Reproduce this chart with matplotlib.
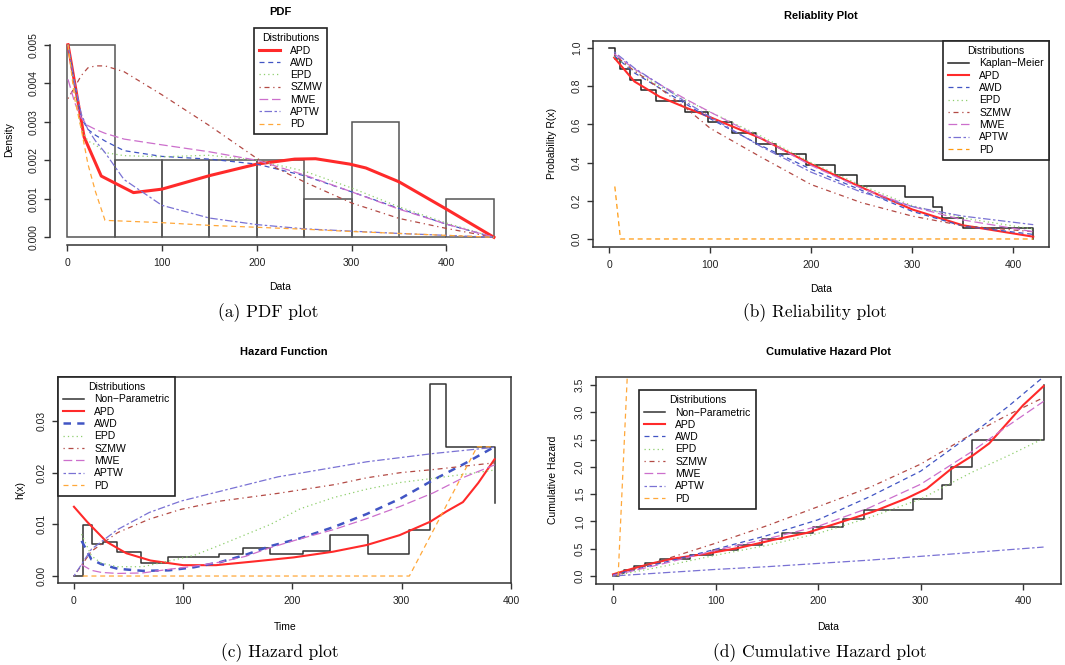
import numpy as np
import matplotlib.pyplot as plt

plt.rcParams['font.family'] = ['Liberation Sans', 'DejaVu Sans']

W, H = 1065, 665

# ---------------- (a) PDF ----------------
hist_left = [0, 50, 100, 150, 200, 250, 300, 350, 400]
hist_density = [0.005, 0.002, 0.002, 0.002, 0.002, 0.001, 0.003, 0.0, 0.001]

pdf_apd_x = [1, 18, 36, 70, 100, 150, 200, 240, 262, 298, 315, 350, 400, 450]
pdf_apd_y = [0.0050, 0.0026, 0.00159, 0.00116, 0.00125, 0.0016, 0.0019, 0.00203,
             0.00204, 0.0019, 0.0018, 0.00144, 0.00073, 0.0]

pdf_x = [1, 8, 15, 22, 30, 40, 60, 100, 150, 200, 250, 300, 350, 400, 450]
pdf_awd = [0.005, 0.0040, 0.0031, 0.0028, 0.00265, 0.0025, 0.00225, 0.0021, 0.00203,
           0.0019, 0.0016, 0.00118, 0.00075, 0.00034, 0.0]
pdf_epd = [0.005, 0.0038, 0.0028, 0.0025, 0.0024, 0.0022, 0.00212, 0.00209, 0.00213,
           0.0020, 0.00172, 0.00128, 0.00079, 0.00037, 0.0]
pdf_szmw = [0.0036, 0.0039, 0.0042, 0.0044, 0.00445, 0.00445, 0.0043, 0.0037, 0.0029,
            0.00205, 0.00144, 0.00089, 0.00049, 0.00023, 0.0]
pdf_mwe = [0.0041, 0.0035, 0.0031, 0.0029, 0.0028, 0.0027, 0.00255, 0.0024, 0.00222,
           0.0020, 0.00162, 0.00118, 0.00073, 0.00034, 0.0]
pdf_aptw = [0.005, 0.0040, 0.0032, 0.0028, 0.0025, 0.0022, 0.0015, 0.00083, 0.0005,
            0.00033, 0.00022, 0.00016, 0.0001, 0.00005, 0.0]
pdf_pd = [0.005, 0.0036, 0.0028, 0.0019, 0.00118, 0.00044, 0.00042, 0.00038, 0.00031,
          0.00026, 0.00021, 0.00015, 0.0001, 0.00005, 0.0]

# ---------------- (b) Reliability ----------------
km_time = [0, 5.6, 11.2, 20.5, 31.4, 46, 75, 98, 122, 145, 165, 195, 224, 245, 293,
           321, 330, 350, 420]
km_surv = [1.0, 0.945, 0.89, 0.835, 0.778, 0.722, 0.667, 0.611, 0.556, 0.5, 0.444,
           0.389, 0.333, 0.278, 0.222, 0.167, 0.111, 0.056, 0.0]

rel_x = [5, 25, 50, 75, 100, 150, 200, 250, 300, 350, 420]
rel_apd = [0.95, 0.825, 0.745, 0.69, 0.638, 0.528, 0.392, 0.27, 0.155, 0.072, 0.012]
rel_awd = [0.96, 0.87, 0.79, 0.71, 0.63, 0.49, 0.365, 0.255, 0.145, 0.068, 0.024]
rel_epd = [0.955, 0.88, 0.80, 0.73, 0.665, 0.54, 0.40, 0.28, 0.175, 0.11, 0.052]
rel_szmw = [0.965, 0.88, 0.79, 0.69, 0.58, 0.43, 0.285, 0.19, 0.12, 0.07, 0.038]
rel_mwe = [0.97, 0.89, 0.81, 0.735, 0.665, 0.53, 0.385, 0.265, 0.17, 0.10, 0.038]
rel_aptw = [0.98, 0.895, 0.81, 0.72, 0.64, 0.485, 0.35, 0.245, 0.17, 0.12, 0.075]
rel_pd_x = [5.6, 11.2, 420]
rel_pd = [0.275, 0.0, 0.0]

# ---------------- (c) Hazard ----------------
np_time = [0, 8.5, 16.8, 27, 39, 61, 86.5, 110, 133, 155, 179.5, 209.5, 234.5, 269,
           307, 325.5, 340.5, 385, 385]
np_haz = [0, 0.0098, 0.0062, 0.0066, 0.0047, 0.0026, 0.0036, 0.0037, 0.0043, 0.0055,
          0.0042, 0.0049, 0.0079, 0.0042, 0.0089, 0.0371, 0.0250, 0.0250, 0.0142]

hz_apd_x = [0, 12, 30, 48, 70, 100, 130, 164, 201, 237, 268, 298, 326, 341, 356, 370, 385]
hz_apd = [0.0134, 0.0105, 0.0066, 0.0044, 0.0030, 0.0021, 0.0021, 0.0028, 0.0036,
          0.0047, 0.0060, 0.0079, 0.0105, 0.0125, 0.0143, 0.0180, 0.0226]
hz_x = [7, 16, 25, 40, 63, 87, 110, 134, 157, 180, 207, 238, 268, 299, 329, 358, 385]
hz_awd = [0.0068, 0.0032, 0.0023, 0.0014, 0.0010, 0.0011, 0.0017, 0.0027, 0.0041,
          0.0058, 0.0073, 0.0095, 0.0120, 0.0150, 0.0186, 0.0218, 0.0250]
hz_epd = [0.0081, 0.0039, 0.0025, 0.0018, 0.0018, 0.0029, 0.0040, 0.0060, 0.0080,
          0.0100, 0.0130, 0.0152, 0.0168, 0.0181, 0.0189, 0.0197, 0.0205]
hz_mwe = [0.0022, 0.0011, 0.0007, 0.0005, 0.0006, 0.0013, 0.0019, 0.0027, 0.0038,
          0.0055, 0.0072, 0.0090, 0.0111, 0.0135, 0.0161, 0.0192, 0.0215]
hz_szmw_x = [0, 16, 40, 69, 98, 134, 187, 239, 268, 299, 329, 385]
hz_szmw = [0.0, 0.0048, 0.0084, 0.0110, 0.0129, 0.0145, 0.0160, 0.0177, 0.0190,
           0.0200, 0.0206, 0.0219]
hz_aptw_x = [0, 16, 40, 69, 98, 134, 187, 207, 268, 329, 385]
hz_aptw = [0.0, 0.0052, 0.0090, 0.0123, 0.0145, 0.0164, 0.0192, 0.0199, 0.0221,
           0.0237, 0.0249]
hz_pd_x = [8, 307, 369, 385]
hz_pd = [0.0, 0.0, 0.025, 0.025]

# ---------------- (d) Cumulative hazard ----------------
np_cum = [0, 0.06, 0.11, 0.18, 0.24, 0.32, 0.39, 0.48, 0.57, 0.67, 0.78, 0.90, 1.05,
          1.21, 1.41, 1.66, 2.0, 2.5, 3.5]

ch_apd_x = [0, 20, 40, 59, 92, 124, 156, 189, 221, 254, 286, 306, 329, 351, 367, 384, 400, 420]
ch_apd = [0.03, 0.14, 0.24, 0.32, 0.41, 0.52, 0.66, 0.79, 0.98, 1.18, 1.42, 1.60,
          1.95, 2.21, 2.43, 2.79, 3.13, 3.48]
ch_x = [0, 50, 100, 150, 200, 250, 300, 350, 385, 420]
ch_awd = [0.02, 0.25, 0.49, 0.74, 1.03, 1.45, 1.92, 2.6, 3.1, 3.65]
ch_epd = [0.0, 0.18, 0.38, 0.56, 0.78, 1.07, 1.41, 1.9, 2.2, 2.52]
ch_szmw = [0.0, 0.3, 0.6, 0.92, 1.27, 1.62, 2.05, 2.6, 2.95, 3.27]
ch_mwe = [0.01, 0.23, 0.47, 0.68, 0.91, 1.25, 1.68, 2.28, 2.75, 3.2]
ch_aptw = [0.0, 0.06, 0.12, 0.17, 0.23, 0.29, 0.36, 0.43, 0.48, 0.53]
ch_pd_x = [5, 14]
ch_pd = [0.0, 3.7]

# styles
c_apd, c_awd, c_epd = '#ff2a2a', '#4155c4', '#8fcf6e'
c_szmw, c_mwe, c_aptw, c_pd = '#b34a45', '#cc6fcc', '#7a72d4', '#ffa83a'
ls_dash = (0, (4, 3))
ls_dot = (0, (1, 2.5))
ls_dotdash = (0, (1, 3, 4, 3))
ls_long = (0, (7, 3))
ls_two = (0, (2, 2, 6, 2))
frame = '#333333'


def px_axes(l, t, r, b):
    return fig.add_axes([l / W, 1 - b / H, (r - l) / W, (b - t) / H])


def style(ax, box=True):
    for s in ax.spines.values():
        s.set_color(frame)
        s.set_linewidth(1.1)
        s.set_visible(box)
    ax.tick_params(length=4, width=1, color=frame, labelsize=7.5, labelcolor='#222')
    ax.tick_params(axis='x', pad=5)
    ax.tick_params(axis='y', pad=4, labelrotation=90)
    for lab in ax.get_yticklabels():
        lab.set_va('center')


def legend(ax, handles, labels, x, y, loc='upper left'):
    leg = ax.legend(handles, labels, title='Distributions', loc=loc,
                    bbox_to_anchor=(x / W, 1 - y / H), bbox_transform=fig.transFigure,
                    fontsize=7.5, title_fontsize=7.5, fancybox=False, framealpha=1,
                    edgecolor='#222', handlelength=2.0, handletextpad=1.0,
                    labelspacing=0.22, borderpad=0.5, borderaxespad=0)
    leg.get_frame().set_linewidth(1.2)


def text(x, y, s, **kw):
    fig.text(x / W, 1 - y / H, s, ha='center', va='center', **kw)


fig = plt.figure(figsize=(W / 100, H / 100), dpi=100)

# ---- (a)
ax = px_axes(50, 37, 511, 245)
ax.bar(hist_left, hist_density, width=50, align='edge', fill=False, edgecolor='#555555', linewidth=1.1)
h = []
h += ax.plot(pdf_apd_x, pdf_apd_y, color=c_apd, lw=2.2)
h += ax.plot(pdf_x, pdf_awd, color=c_awd, lw=0.9, ls=ls_dash)
h += ax.plot(pdf_x, pdf_epd, color=c_epd, lw=0.9, ls=ls_dot)
h += ax.plot(pdf_x, pdf_szmw, color=c_szmw, lw=0.9, ls=ls_dotdash)
h += ax.plot(pdf_x, pdf_mwe, color=c_mwe, lw=0.9, ls=ls_long)
h += ax.plot(pdf_x, pdf_aptw, color=c_aptw, lw=0.9, ls=ls_two)
h += ax.plot(pdf_x, pdf_pd, color=c_pd, lw=0.9, ls=ls_dash)
ax.set_xlim(-18, 468)
ax.set_ylim(-0.0002, 0.0052)
ax.set_xticks([0, 100, 200, 300, 400])
ax.set_yticks([0, 0.001, 0.002, 0.003, 0.004, 0.005])
ax.set_yticklabels(['0.000', '0.001', '0.002', '0.003', '0.004', '0.005'])
style(ax, box=False)
ax.spines['left'].set_visible(True)
ax.spines['bottom'].set_visible(True)
ax.spines['left'].set_bounds(0, 0.005)
ax.spines['bottom'].set_bounds(0, 400)
legend(ax, h, ['APD', 'AWD', 'EPD', 'SZMW', 'MWE', 'APTW', 'PD'], 254, 28)
text(280, 12, 'PDF', fontsize=8, fontweight='bold')
text(280, 287, 'Data', fontsize=7.5)
text(9, 140, 'Density', fontsize=7.5, rotation=90)

# ---- (b)
ax = px_axes(593, 41, 1049, 247)
h = []
h += ax.plot(km_time, km_surv, color='#222222', lw=1.1, drawstyle='steps-post')
h += ax.plot(rel_x, rel_apd, color=c_apd, lw=1.5)
h += ax.plot(rel_x, rel_awd, color=c_awd, lw=0.9, ls=ls_dash)
h += ax.plot(rel_x, rel_epd, color=c_epd, lw=0.9, ls=ls_dot)
h += ax.plot(rel_x, rel_szmw, color=c_szmw, lw=0.9, ls=ls_dotdash)
h += ax.plot(rel_x, rel_mwe, color=c_mwe, lw=0.9, ls=ls_long)
h += ax.plot(rel_x, rel_aptw, color=c_aptw, lw=0.9, ls=ls_two)
h += ax.plot(rel_pd_x, rel_pd, color='#ff9a10', lw=0.9, ls=ls_dash)
ax.set_xlim(-16, 435.6)
ax.set_ylim(-0.042, 1.037)
ax.set_xticks([0, 100, 200, 300, 400])
ax.set_yticks([0, 0.2, 0.4, 0.6, 0.8, 1.0])
ax.set_yticklabels(['0.0', '0.2', '0.4', '0.6', '0.8', '1.0'])
style(ax)
legend(ax, h, ['Kaplan\u2212Meier', 'APD', 'AWD', 'EPD', 'SZMW', 'MWE', 'APTW', 'PD'],
       1049, 41, loc='upper right')
text(821, 16, 'Reliablity Plot', fontsize=8, fontweight='bold')
text(821, 289, 'Data', fontsize=7.5)
text(552, 143, 'Probability R(x)', fontsize=7.5, rotation=90)

# ---- (c)
ax = px_axes(58, 377, 511, 583)
h = []
h += ax.plot(np_time, np_haz, color='#333333', lw=1.1, drawstyle='steps-post')
h += ax.plot(hz_apd_x, hz_apd, color=c_apd, lw=1.5)
h += ax.plot(hz_x, hz_awd, color=c_awd, lw=1.8, ls=(0, (3, 2.5)))
h += ax.plot(hz_x, hz_epd, color=c_epd, lw=0.9, ls=ls_dot)
h += ax.plot(hz_szmw_x, hz_szmw, color=c_szmw, lw=0.9, ls=ls_dotdash)
h += ax.plot(hz_x, hz_mwe, color=c_mwe, lw=0.9, ls=ls_long)
h += ax.plot(hz_aptw_x, hz_aptw, color=c_aptw, lw=0.9, ls=ls_two)
h += ax.plot(hz_pd_x, hz_pd, color=c_pd, lw=0.9, ls=ls_dash)
ax.set_xlim(-14.6, 400)
ax.set_ylim(-0.00135, 0.0385)
ax.set_xticks([0, 100, 200, 300, 400])
ax.set_yticks([0, 0.01, 0.02, 0.03])
ax.set_yticklabels(['0.00', '0.01', '0.02', '0.03'])
style(ax)
legend(ax, h, ['Non\u2212Parametric', 'APD', 'AWD', 'EPD', 'SZMW', 'MWE', 'APTW', 'PD'], 58, 377)
text(284, 352, 'Hazard Function', fontsize=8, fontweight='bold')
text(285, 627, 'Time', fontsize=7.5)
text(20, 490, 'h(x)', fontsize=7.5, rotation=90)

# ---- (d)
ax = px_axes(596, 377, 1061, 584)
h = []
h += ax.plot(km_time, np_cum, color='#333333', lw=1.1, drawstyle='steps-post')
h += ax.plot(ch_apd_x, ch_apd, color=c_apd, lw=1.5)
h += ax.plot(ch_x, ch_awd, color=c_awd, lw=0.9, ls=ls_dash)
h += ax.plot(ch_x, ch_epd, color=c_epd, lw=0.9, ls=ls_dot)
h += ax.plot(ch_x, ch_szmw, color=c_szmw, lw=0.9, ls=ls_dotdash)
h += ax.plot(ch_x, ch_mwe, color=c_mwe, lw=0.9, ls=ls_long)
h += ax.plot(ch_x, ch_aptw, color=c_aptw, lw=0.9, ls=ls_two)
h += ax.plot(ch_pd_x, ch_pd, color=c_pd, lw=0.9, ls=ls_dash)
ax.set_xlim(-16.6, 437)
ax.set_ylim(-0.147, 3.647)
ax.set_xticks([0, 100, 200, 300, 400])
ax.set_yticks([0, 0.5, 1.0, 1.5, 2.0, 2.5, 3.0, 3.5])
ax.set_yticklabels(['0.0', '0.5', '1.0', '1.5', '2.0', '2.5', '3.0', '3.5'])
style(ax)
legend(ax, h, ['Non\u2212Parametric', 'APD', 'AWD', 'EPD', 'SZMW', 'MWE', 'APTW', 'PD'], 639, 390)
text(828, 352, 'Cumulative Hazard Plot', fontsize=8, fontweight='bold')
text(828, 627, 'Data', fontsize=7.5)
text(553, 480, 'Cumulative Hazard', fontsize=7.5, rotation=90)

# captions
cap = dict(fontsize=12.5, family='cmr10')
text(268, 313, '(a) PDF plot', **cap)
text(815, 313, '(b) Reliability plot', **cap)
text(280, 653, '(c) Hazard plot', **cap)
text(820, 653, '(d) Cumulative Hazard plot', **cap)

fig.savefig('out.png', dpi=100)
